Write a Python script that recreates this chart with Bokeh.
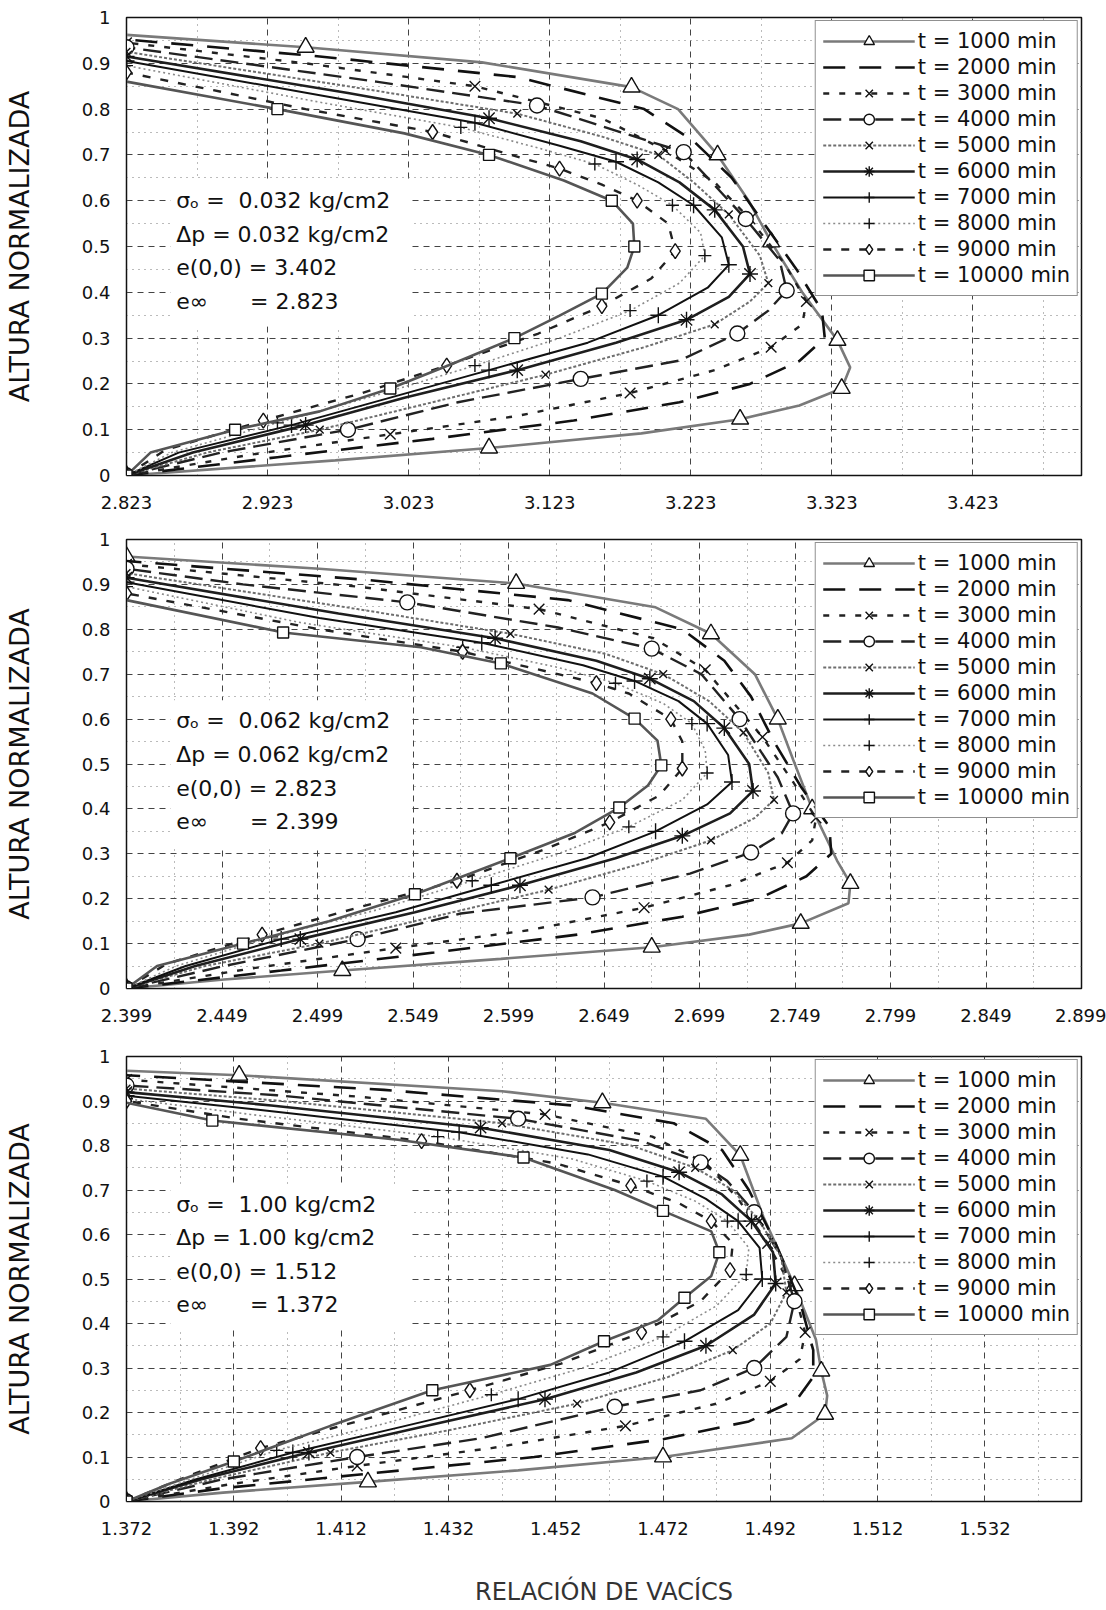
from bokeh.plotting import figure
from bokeh.layouts import column
from bokeh.models import FixedTicker, Legend, LegendItem, Label, BoxAnnotation, Range1d
from bokeh.embed import file_html
from bokeh.resources import INLINE

# ---------------- data ----------------
SERIES_LABELS = ["t = 1000 min", "t = 2000 min", "t = 3000 min", "t = 4000 min", "t = 5000 min",
                 "t = 6000 min", "t = 7000 min", "t = 8000 min", "t = 9000 min", "t = 10000 min"]

Y_TICKS = [0, 0.1, 0.2, 0.3, 0.4, 0.5, 0.6, 0.7, 0.8, 0.9, 1.0]
Y_TICK_LABELS = ["0", "0.1", "0.2", "0.3", "0.4", "0.5", "0.6", "0.7", "0.8", "0.9", "1"]

X1_TICKS = [2.823, 2.923, 3.023, 3.123, 3.223, 3.323, 3.423]
X1_TICK_LABELS = ["2.823", "2.923", "3.023", "3.123", "3.223", "3.323", "3.423"]
X1_RANGE = [2.823, 3.5]
X2_TICKS = [2.399, 2.449, 2.499, 2.549, 2.599, 2.649, 2.699, 2.749, 2.799, 2.849, 2.899]
X2_TICK_LABELS = ["2.399", "2.449", "2.499", "2.549", "2.599", "2.649", "2.699", "2.749", "2.799", "2.849", "2.899"]
X2_RANGE = [2.399, 2.899]
X3_TICKS = [1.372, 1.392, 1.412, 1.432, 1.452, 1.472, 1.492, 1.512, 1.532]
X3_TICK_LABELS = ["1.372", "1.392", "1.412", "1.432", "1.452", "1.472", "1.492", "1.512", "1.532"]
X3_RANGE = [1.372, 1.55]

NOTES_1 = ["σₒ =\u00a0 0.032 kg/cm2", "Δp = 0.032 kg/cm2", "e(0,0) = 3.402", "e∞\u00a0\u00a0\u00a0\u00a0\u00a0 = 2.823"]
NOTES_2 = ["σₒ =\u00a0 0.062 kg/cm2", "Δp = 0.062 kg/cm2", "e(0,0) = 2.823", "e∞\u00a0\u00a0\u00a0\u00a0\u00a0 = 2.399"]
NOTES_3 = ["σₒ =\u00a0 1.00 kg/cm2", "Δp = 1.00 kg/cm2", "e(0,0) = 1.512", "e∞\u00a0\u00a0\u00a0\u00a0\u00a0 = 1.372"]

# Panel 1 (void ratio e, normalized height z)
P1_E_1000 = [2.823, 2.971, 3.080, 3.188, 3.258, 3.300, 3.330, 3.336, 3.327, 3.302, 3.280, 3.264, 3.242, 3.214, 3.181, 3.075, 2.950, 2.823]
P1_Z_1000 = [0.000, 0.033, 0.060, 0.092, 0.123, 0.153, 0.190, 0.236, 0.295, 0.400, 0.510, 0.600, 0.700, 0.800, 0.848, 0.902, 0.935, 0.962]
P1_E_2000 = [2.823, 2.930, 3.040, 3.140, 3.215, 3.265, 3.300, 3.318, 3.316, 3.298, 3.275, 3.252, 3.225, 3.190, 3.100, 2.960, 2.823]
P1_Z_2000 = [0.000, 0.040, 0.080, 0.120, 0.160, 0.200, 0.250, 0.300, 0.360, 0.450, 0.550, 0.650, 0.730, 0.800, 0.870, 0.915, 0.952]
P1_E_3000 = [2.823, 2.910, 3.010, 3.100, 3.180, 3.240, 3.280, 3.302, 3.305, 3.290, 3.265, 3.240, 3.205, 3.160, 3.070, 2.950, 2.823]
P1_Z_3000 = [0.000, 0.045, 0.090, 0.130, 0.180, 0.230, 0.280, 0.330, 0.380, 0.460, 0.560, 0.640, 0.710, 0.780, 0.850, 0.900, 0.945]
P1_E_4000 = [2.823, 2.890, 2.980, 3.058, 3.145, 3.215, 3.256, 3.278, 3.291, 3.286, 3.262, 3.238, 3.218, 3.177, 3.114, 3.000, 2.823]
P1_Z_4000 = [0.000, 0.050, 0.100, 0.160, 0.211, 0.251, 0.310, 0.360, 0.404, 0.470, 0.560, 0.640, 0.706, 0.746, 0.808, 0.860, 0.935]
P1_E_5000 = [2.823, 2.880, 2.960, 3.040, 3.120, 3.190, 3.240, 3.265, 3.278, 3.272, 3.250, 3.225, 3.200, 3.160, 3.100, 2.990, 2.823]
P1_Z_5000 = [0.000, 0.050, 0.100, 0.160, 0.220, 0.280, 0.330, 0.380, 0.420, 0.480, 0.570, 0.640, 0.700, 0.740, 0.790, 0.845, 0.925]
P1_E_6000 = [2.823, 2.870, 2.950, 3.020, 3.100, 3.170, 3.220, 3.250, 3.265, 3.260, 3.240, 3.215, 3.185, 3.145, 3.080, 2.980, 2.823]
P1_Z_6000 = [0.000, 0.050, 0.110, 0.170, 0.230, 0.290, 0.340, 0.390, 0.440, 0.500, 0.580, 0.640, 0.690, 0.730, 0.780, 0.835, 0.915]
P1_E_7000 = [2.823, 2.860, 2.940, 3.010, 3.080, 3.150, 3.200, 3.235, 3.250, 3.245, 3.225, 3.200, 3.170, 3.130, 3.070, 2.970, 2.823]
P1_Z_7000 = [0.000, 0.050, 0.110, 0.170, 0.230, 0.290, 0.350, 0.410, 0.460, 0.520, 0.590, 0.640, 0.685, 0.720, 0.770, 0.825, 0.905]
P1_E_8000 = [2.823, 2.855, 2.930, 3.000, 3.070, 3.130, 3.180, 3.215, 3.233, 3.230, 3.210, 3.185, 3.155, 3.115, 3.060, 2.960, 2.823]
P1_Z_8000 = [0.000, 0.050, 0.115, 0.175, 0.240, 0.300, 0.360, 0.420, 0.480, 0.530, 0.590, 0.635, 0.680, 0.715, 0.760, 0.815, 0.895]
P1_E_9000 = [2.823, 2.850, 2.920, 2.990, 3.050, 3.115, 3.160, 3.195, 3.212, 3.207, 3.185, 3.160, 3.130, 3.090, 3.040, 2.950, 2.823]
P1_Z_9000 = [0.000, 0.055, 0.120, 0.180, 0.240, 0.310, 0.370, 0.430, 0.490, 0.550, 0.600, 0.635, 0.670, 0.705, 0.750, 0.800, 0.880]
P1_E_10000 = [2.823, 2.840, 2.900, 2.960, 3.010, 3.055, 3.098, 3.130, 3.160, 3.178, 3.183, 3.182, 3.167, 3.133, 3.080, 3.020, 2.930, 2.823]
P1_Z_10000 = [0.000, 0.050, 0.100, 0.140, 0.190, 0.245, 0.300, 0.349, 0.397, 0.454, 0.500, 0.550, 0.600, 0.644, 0.700, 0.747, 0.800, 0.860]

# Panel 2
P2_E_1000 = [2.399, 2.450, 2.512, 2.595, 2.674, 2.725, 2.752, 2.777, 2.778, 2.771, 2.758, 2.748, 2.740, 2.728, 2.705, 2.676, 2.603, 2.500, 2.399]
P2_Z_1000 = [0.000, 0.020, 0.040, 0.066, 0.092, 0.120, 0.145, 0.190, 0.234, 0.285, 0.400, 0.510, 0.600, 0.700, 0.790, 0.849, 0.902, 0.935, 0.962]
P2_E_2000 = [2.399, 2.480, 2.560, 2.635, 2.690, 2.730, 2.755, 2.768, 2.767, 2.752, 2.738, 2.726, 2.712, 2.690, 2.630, 2.525, 2.399]
P2_Z_2000 = [0.000, 0.040, 0.080, 0.120, 0.160, 0.200, 0.250, 0.300, 0.360, 0.450, 0.550, 0.650, 0.730, 0.800, 0.865, 0.910, 0.952]
P2_E_3000 = [2.399, 2.465, 2.540, 2.610, 2.670, 2.715, 2.745, 2.758, 2.760, 2.748, 2.732, 2.716, 2.702, 2.675, 2.615, 2.520, 2.399]
P2_Z_3000 = [0.000, 0.045, 0.090, 0.130, 0.180, 0.230, 0.280, 0.330, 0.380, 0.460, 0.560, 0.640, 0.710, 0.780, 0.845, 0.895, 0.945]
P2_E_4000 = [2.399, 2.450, 2.520, 2.574, 2.643, 2.694, 2.726, 2.742, 2.748, 2.740, 2.720, 2.700, 2.674, 2.625, 2.546, 2.460, 2.399]
P2_Z_4000 = [0.000, 0.050, 0.110, 0.167, 0.203, 0.256, 0.303, 0.345, 0.390, 0.470, 0.600, 0.700, 0.757, 0.804, 0.860, 0.900, 0.935]
P2_E_5000 = [2.399, 2.440, 2.500, 2.560, 2.620, 2.670, 2.705, 2.728, 2.738, 2.735, 2.722, 2.704, 2.680, 2.650, 2.600, 2.520, 2.399]
P2_Z_5000 = [0.000, 0.050, 0.100, 0.160, 0.220, 0.280, 0.330, 0.380, 0.420, 0.480, 0.570, 0.640, 0.700, 0.745, 0.790, 0.845, 0.925]
P2_E_6000 = [2.399, 2.435, 2.490, 2.550, 2.605, 2.655, 2.690, 2.715, 2.727, 2.725, 2.712, 2.696, 2.673, 2.645, 2.592, 2.510, 2.399]
P2_Z_6000 = [0.000, 0.050, 0.110, 0.170, 0.230, 0.290, 0.340, 0.390, 0.440, 0.500, 0.580, 0.640, 0.690, 0.730, 0.780, 0.835, 0.915]
P2_E_7000 = [2.399, 2.430, 2.480, 2.540, 2.590, 2.640, 2.676, 2.703, 2.716, 2.714, 2.703, 2.688, 2.665, 2.638, 2.585, 2.500, 2.399]
P2_Z_7000 = [0.000, 0.050, 0.110, 0.170, 0.230, 0.290, 0.350, 0.410, 0.460, 0.520, 0.590, 0.640, 0.685, 0.720, 0.770, 0.825, 0.905]
P2_E_8000 = [2.399, 2.425, 2.475, 2.530, 2.580, 2.625, 2.662, 2.690, 2.703, 2.702, 2.695, 2.680, 2.655, 2.625, 2.575, 2.490, 2.399]
P2_Z_8000 = [0.000, 0.050, 0.115, 0.175, 0.240, 0.300, 0.360, 0.420, 0.480, 0.530, 0.590, 0.635, 0.680, 0.715, 0.760, 0.815, 0.895]
P2_E_9000 = [2.399, 2.420, 2.470, 2.520, 2.572, 2.618, 2.652, 2.678, 2.690, 2.690, 2.684, 2.662, 2.645, 2.625, 2.575, 2.500, 2.399]
P2_Z_9000 = [0.000, 0.055, 0.120, 0.180, 0.240, 0.310, 0.370, 0.430, 0.490, 0.550, 0.600, 0.657, 0.680, 0.700, 0.750, 0.800, 0.880]
P2_E_10000 = [2.399, 2.415, 2.460, 2.505, 2.550, 2.579, 2.600, 2.634, 2.657, 2.672, 2.679, 2.677, 2.665, 2.643, 2.595, 2.553, 2.481, 2.399]
P2_Z_10000 = [0.000, 0.050, 0.100, 0.150, 0.210, 0.256, 0.290, 0.347, 0.403, 0.452, 0.497, 0.552, 0.601, 0.657, 0.724, 0.760, 0.793, 0.865]

# Panel 3
P3_E_1000 = [1.372, 1.390, 1.417, 1.445, 1.472, 1.496, 1.5022, 1.5026, 1.5015, 1.5005, 1.4965, 1.4907, 1.4864, 1.480, 1.4607, 1.442, 1.393, 1.372]
P3_Z_1000 = [0.000, 0.020, 0.044, 0.070, 0.100, 0.142, 0.196, 0.238, 0.293, 0.364, 0.485, 0.640, 0.778, 0.860, 0.896, 0.922, 0.958, 0.968]
P3_E_2000 = [1.372, 1.390, 1.415, 1.448, 1.472, 1.488, 1.497, 1.500, 1.500, 1.4975, 1.493, 1.488, 1.483, 1.474, 1.455, 1.420, 1.372]
P3_Z_2000 = [0.000, 0.030, 0.060, 0.100, 0.140, 0.180, 0.230, 0.280, 0.340, 0.450, 0.580, 0.700, 0.790, 0.850, 0.890, 0.925, 0.958]
P3_E_3000 = [1.372, 1.392, 1.415, 1.440, 1.465, 1.482, 1.492, 1.4975, 1.4985, 1.4965, 1.4915, 1.486, 1.480, 1.470, 1.450, 1.415, 1.372]
P3_Z_3000 = [0.000, 0.040, 0.080, 0.120, 0.170, 0.220, 0.270, 0.320, 0.380, 0.470, 0.580, 0.680, 0.760, 0.820, 0.870, 0.910, 0.948]
P3_E_4000 = [1.372, 1.390, 1.415, 1.438, 1.463, 1.479, 1.489, 1.495, 1.4965, 1.494, 1.489, 1.484, 1.479, 1.468, 1.445, 1.400, 1.372]
P3_Z_4000 = [0.000, 0.050, 0.100, 0.142, 0.213, 0.250, 0.300, 0.370, 0.450, 0.550, 0.650, 0.720, 0.762, 0.810, 0.860, 0.913, 0.935]
P3_E_5000 = [1.372, 1.388, 1.410, 1.432, 1.456, 1.473, 1.485, 1.492, 1.495, 1.494, 1.490, 1.485, 1.478, 1.466, 1.442, 1.401, 1.372]
P3_Z_5000 = [0.000, 0.050, 0.110, 0.160, 0.220, 0.280, 0.340, 0.400, 0.470, 0.550, 0.630, 0.700, 0.750, 0.800, 0.850, 0.900, 0.928]
P3_E_6000 = [1.372, 1.386, 1.406, 1.428, 1.450, 1.467, 1.480, 1.489, 1.493, 1.4925, 1.4885, 1.483, 1.475, 1.462, 1.438, 1.399, 1.372]
P3_Z_6000 = [0.000, 0.050, 0.110, 0.170, 0.230, 0.290, 0.350, 0.420, 0.490, 0.560, 0.630, 0.690, 0.740, 0.790, 0.840, 0.890, 0.920]
P3_E_7000 = [1.372, 1.385, 1.403, 1.424, 1.445, 1.462, 1.476, 1.486, 1.4905, 1.490, 1.486, 1.480, 1.472, 1.458, 1.434, 1.397, 1.372]
P3_Z_7000 = [0.000, 0.050, 0.110, 0.170, 0.230, 0.290, 0.360, 0.430, 0.500, 0.570, 0.630, 0.680, 0.730, 0.780, 0.830, 0.880, 0.912]
P3_E_8000 = [1.372, 1.384, 1.400, 1.420, 1.440, 1.457, 1.472, 1.482, 1.4875, 1.488, 1.484, 1.478, 1.469, 1.455, 1.430, 1.395, 1.372]
P3_Z_8000 = [0.000, 0.050, 0.115, 0.175, 0.240, 0.300, 0.370, 0.440, 0.510, 0.570, 0.630, 0.675, 0.720, 0.770, 0.820, 0.870, 0.905]
P3_E_9000 = [1.372, 1.382, 1.397, 1.415, 1.436, 1.453, 1.468, 1.479, 1.4845, 1.485, 1.481, 1.475, 1.466, 1.452, 1.427, 1.393, 1.372]
P3_Z_9000 = [0.000, 0.050, 0.120, 0.180, 0.250, 0.310, 0.380, 0.450, 0.520, 0.580, 0.630, 0.670, 0.710, 0.760, 0.810, 0.860, 0.900]
P3_E_10000 = [1.372, 1.380, 1.392, 1.410, 1.429, 1.451, 1.461, 1.471, 1.476, 1.481, 1.4825, 1.481, 1.472, 1.463, 1.446, 1.4226, 1.388, 1.372]
P3_Z_10000 = [0.000, 0.040, 0.090, 0.170, 0.250, 0.307, 0.360, 0.407, 0.458, 0.507, 0.560, 0.607, 0.653, 0.700, 0.773, 0.813, 0.856, 0.896]

P1_E = [P1_E_1000, P1_E_2000, P1_E_3000, P1_E_4000, P1_E_5000, P1_E_6000, P1_E_7000, P1_E_8000, P1_E_9000, P1_E_10000]
P1_Z = [P1_Z_1000, P1_Z_2000, P1_Z_3000, P1_Z_4000, P1_Z_5000, P1_Z_6000, P1_Z_7000, P1_Z_8000, P1_Z_9000, P1_Z_10000]
P2_E = [P2_E_1000, P2_E_2000, P2_E_3000, P2_E_4000, P2_E_5000, P2_E_6000, P2_E_7000, P2_E_8000, P2_E_9000, P2_E_10000]
P2_Z = [P2_Z_1000, P2_Z_2000, P2_Z_3000, P2_Z_4000, P2_Z_5000, P2_Z_6000, P2_Z_7000, P2_Z_8000, P2_Z_9000, P2_Z_10000]
P3_E = [P3_E_1000, P3_E_2000, P3_E_3000, P3_E_4000, P3_E_5000, P3_E_6000, P3_E_7000, P3_E_8000, P3_E_9000, P3_E_10000]
P3_Z = [P3_Z_1000, P3_Z_2000, P3_Z_3000, P3_Z_4000, P3_Z_5000, P3_Z_6000, P3_Z_7000, P3_Z_8000, P3_Z_9000, P3_Z_10000]

# ---------------- styles ----------------
STYLES = [
    dict(color="#7a7a7a", width=2.6, dash="solid", marker="triangle", msize=17),
    dict(color="#111111", width=2.6, dash="22 14", marker=None, msize=0),
    dict(color="#222222", width=2.4, dash="6 10", marker="x", msize=15),
    dict(color="#222222", width=2.4, dash="18 8", marker="circle", msize=15),
    dict(color="#6e6e6e", width=2.0, dash="3 2", marker="x", msize=11),
    dict(color="#1e1e1e", width=2.6, dash="solid", marker="asterisk", msize=16),
    dict(color="#111111", width=2.0, dash="solid", marker="cross", msize=16),
    dict(color="#8a8a8a", width=1.6, dash="2 3", marker="cross", msize=13),
    dict(color="#222222", width=2.4, dash="8 10", marker="diamond", msize=15),
    dict(color="#555555", width=2.6, dash="solid", marker="square", msize=11),
]
FONT = "DejaVu Sans"
NOTE_Z = {1: [0.600, 0.527, 0.454, 0.381], 2: [0.597, 0.522, 0.446, 0.371], 3: [0.667, 0.593, 0.517, 0.442]}


def make_panel(idx, E_list, Z_list, xr, xticks, xlabels, notes, height, bt, bb, xtitle=None):
    x0, x1 = xr
    p = figure(width=1106, height=height, x_range=Range1d(x0, x1), y_range=Range1d(0, 1),
               output_backend="svg", toolbar_location=None,
               min_border_left=123, min_border_right=25, min_border_top=bt, min_border_bottom=bb)
    p.background_fill_color = "white"
    p.border_fill_color = "white"
    p.outline_line_color = "#111111"
    p.outline_line_width = 1.5

    step = xticks[1] - xticks[0]
    xt = FixedTicker(ticks=xticks, minor_ticks=[t + step / 2 for t in xticks])
    yt = FixedTicker(ticks=Y_TICKS, minor_ticks=[t + 0.05 for t in Y_TICKS[:-1]])
    p.xaxis.ticker = xt
    p.yaxis.ticker = yt
    p.xgrid.ticker = xt
    p.ygrid.ticker = yt
    for g in (p.xgrid, p.ygrid):
        g.grid_line_color = "#444444"
        g.grid_line_dash = "6 5"
        g.grid_line_width = 1
        g.minor_grid_line_color = "#777777"
        g.minor_grid_line_dash = "1 5"
        g.minor_grid_line_width = 1

    p.xaxis.major_label_overrides = dict(zip(xticks, xlabels))
    p.yaxis.major_label_overrides = dict(zip(Y_TICKS, Y_TICK_LABELS))
    for ax in (p.xaxis, p.yaxis):
        ax.major_tick_line_color = None
        ax.minor_tick_line_color = None
        ax.major_tick_out = 0
        ax.major_tick_in = 0
        ax.minor_tick_out = 0
        ax.minor_tick_in = 0
        ax.axis_line_color = "#111111"
        ax.major_label_text_font = FONT
        ax.major_label_text_font_size = "18px"
        ax.major_label_text_color = "#111111"
    p.xaxis.major_label_standoff = 20
    p.yaxis.major_label_standoff = 16
    p.yaxis.axis_label = "ALTURA NORMALIZADA"
    p.yaxis.axis_label_text_font = FONT
    p.yaxis.axis_label_text_font_size = "27px"
    p.yaxis.axis_label_text_font_style = "normal"
    p.yaxis.axis_label_text_color = "#111111"
    p.yaxis.axis_label_standoff = 44
    if xtitle:
        p.xaxis.axis_label = xtitle
        p.xaxis.axis_label_text_font = FONT
        p.xaxis.axis_label_text_font_size = "24px"
        p.xaxis.axis_label_text_font_style = "normal"
        p.xaxis.axis_label_text_color = "#333333"
        p.xaxis.axis_label_standoff = 40

    # white box behind the notes
    nz = NOTE_Z[idx]
    box = BoxAnnotation(left=x0 + 0.046 * (x1 - x0), right=x0 + 0.297 * (x1 - x0),
                        bottom=nz[-1] - 0.055, top=nz[0] + 0.045,
                        fill_color="white", fill_alpha=1.0, line_color=None, level="underlay")
    p.add_layout(box)

    items = []
    for k, st in enumerate(STYLES):
        e, z = E_list[k], Z_list[k]
        lr = p.line(e, z, line_color=st["color"], line_width=st["width"], line_dash=st["dash"])
        rends = [lr]
        if st["marker"]:
            mr = p.scatter(e[::2], z[::2], marker=st["marker"], size=st["msize"],
                           fill_color="white", line_color="#111111", line_width=1.4)
            rends.append(mr)
        items.append(LegendItem(label=SERIES_LABELS[k], renderers=rends))

    for i, txt in enumerate(notes):
        p.add_layout(Label(x=x0 + 0.052 * (x1 - x0), y=nz[i], text=txt, text_font=FONT,
                           text_font_size="22px", text_color="#111111", text_baseline="middle",
                           text_align="left"))

    leg = Legend(items=items, location="top_right")
    leg.label_text_font = FONT
    leg.label_text_font_size = "21px"
    leg.label_text_color = "#111111"
    leg.glyph_width = 92
    leg.glyph_height = 26
    leg.label_height = 26
    leg.label_standoff = 3
    leg.spacing = 0
    leg.padding = 7
    leg.margin = 3
    leg.border_line_color = "#222222"
    leg.border_line_width = 1.2
    leg.background_fill_color = "white"
    leg.background_fill_alpha = 1.0
    p.add_layout(leg)
    return p


p1 = make_panel(1, P1_E, P1_Z, X1_RANGE, X1_TICKS, X1_TICK_LABELS, NOTES_1, 516, 17, 41)
p2 = make_panel(2, P2_E, P2_Z, X2_RANGE, X2_TICKS, X2_TICK_LABELS, NOTES_2, 516, 23, 44)
p3 = make_panel(3, P3_E, P3_Z, X3_RANGE, X3_TICKS, X3_TICK_LABELS, NOTES_3, 576, 24, 102,
                xtitle="RELACIÓN DE VACÍCS")

layout = column(p1, p2, p3, spacing=0)
open("out.html", "w").write(file_html(layout, INLINE))
